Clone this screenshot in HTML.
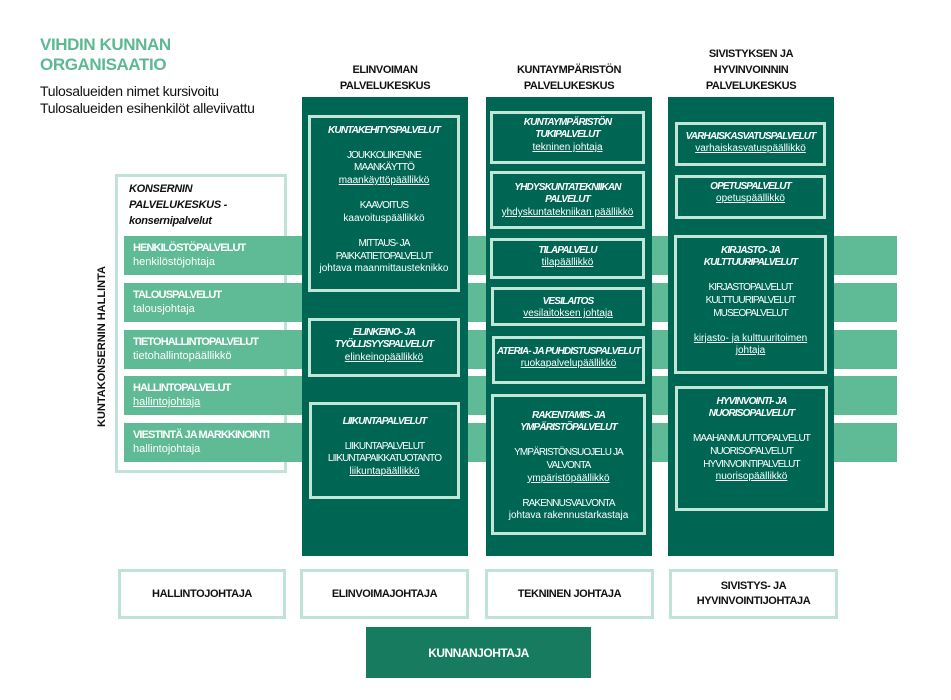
<!DOCTYPE html>
<html>
<head>
<meta charset="utf-8">
<style>
  html,body{margin:0;padding:0;background:#fff;}
  body{width:951px;height:700px;position:relative;overflow:hidden;font-family:"Liberation Sans",Arial,sans-serif;}
  .abs{position:absolute;}
  .title{left:40px;top:35px;font-size:17px;line-height:20px;font-weight:bold;color:#5cb994;letter-spacing:-0.4px;white-space:nowrap;}
  .sub{left:40px;top:83px;font-size:14px;line-height:17px;color:#111;letter-spacing:-0.3px;white-space:nowrap;}
  .colhead{font-size:11px;line-height:16px;font-weight:bold;color:#111;text-align:center;letter-spacing:-0.4px;white-space:nowrap;}
  .panel{left:115px;top:174px;width:172px;height:299px;box-sizing:border-box;border:3px solid #bfe3d6;z-index:1;}
  .ptext{left:129px;top:181px;font-size:11px;line-height:16px;font-weight:bold;font-style:italic;color:#111;letter-spacing:-0.3px;white-space:nowrap;z-index:2;}
  .stripe{left:124px;width:773px;height:39px;background:#5fba96;z-index:2;}
  .stxt{position:absolute;left:9px;top:5px;color:#fff;white-space:nowrap;}
  .stxt b{display:block;font-size:11px;line-height:14px;letter-spacing:-0.9px;}
  .stxt span{display:block;font-size:11px;line-height:14px;}
  .vert{left:22px;top:340px;width:160px;height:14px;font-size:11px;line-height:14px;font-weight:bold;color:#111;text-align:center;transform:rotate(-90deg);white-space:nowrap;}
  .col{top:97px;height:459px;background:#006654;z-index:3;}
  .box{position:absolute;box-sizing:border-box;border:3px solid #c2e6d8;color:#fff;text-align:center;font-size:10px;line-height:12.6px;white-space:nowrap;}
  .box i{font-weight:bold;letter-spacing:-0.85px;}
  .box .u{letter-spacing:-0.9px;}
  .box a,.box .ul{text-decoration:underline;color:#fff;}
  .bbox{position:absolute;top:569px;height:50px;box-sizing:border-box;border:3px solid #bfe3d6;background:#fff;display:flex;align-items:center;justify-content:center;text-align:center;font-size:11px;line-height:15px;font-weight:bold;color:#111;letter-spacing:-0.4px;white-space:nowrap;}
  .kj{left:366px;top:627px;width:225px;height:51px;background:#177c5f;color:#fff;font-weight:bold;font-size:12px;display:flex;align-items:center;justify-content:center;letter-spacing:-0.5px;}
</style>
</head>
<body>

<div class="abs title">VIHDIN KUNNAN<br>ORGANISAATIO</div>
<div class="abs sub">Tulosalueiden nimet kursivoitu<br>Tulosalueiden esihenkilöt alleviivattu</div>

<div class="abs colhead" style="left:302px;width:166px;top:62px;">ELINVOIMAN<br>PALVELUKESKUS</div>
<div class="abs colhead" style="left:486px;width:166px;top:62px;">KUNTAYMPÄRISTÖN<br>PALVELUKESKUS</div>
<div class="abs colhead" style="left:668px;width:166px;top:46px;">SIVISTYKSEN JA<br>HYVINVOINNIN<br>PALVELUKESKUS</div>

<div class="abs panel"></div>
<div class="abs ptext">KONSERNIN<br>PALVELUKESKUS -<br>konsernipalvelut</div>

<div class="abs stripe" style="top:236px;"><div class="stxt"><b>HENKILÖSTÖPALVELUT</b><span>henkilöstöjohtaja</span></div></div>
<div class="abs stripe" style="top:283px;"><div class="stxt"><b>TALOUSPALVELUT</b><span>talousjohtaja</span></div></div>
<div class="abs stripe" style="top:330px;"><div class="stxt"><b>TIETOHALLINTOPALVELUT</b><span>tietohallintopäällikkö</span></div></div>
<div class="abs stripe" style="top:376px;"><div class="stxt"><b>HALLINTOPALVELUT</b><span style="text-decoration:underline;">hallintojohtaja</span></div></div>
<div class="abs stripe" style="top:423px;"><div class="stxt"><b>VIESTINTÄ JA MARKKINOINTI</b><span>hallintojohtaja</span></div></div>

<div class="abs vert">KUNTAKONSERNIN HALLINTA</div>

<!-- Column 1 -->
<div class="abs col" style="left:302px;width:166px;"></div>
<div class="box" style="left:308px;top:115px;width:152px;height:177px;padding-top:6.7px;z-index:4;">
<i>KUNTAKEHITYSPALVELUT</i><br><br>
<span class="u">JOUKKOLIIKENNE</span><br>
<span class="u">MAANKÄYTTÖ</span><br>
<span class="ul">maankäyttöpäällikkö</span><br><br>
<span class="u">KAAVOITUS</span><br>
kaavoituspäällikkö<br><br>
<span class="u">MITTAUS- JA</span><br>
<span class="u">PAIKKATIETOPALVELUT</span><br>
johtava maanmittausteknikko
</div>
<div class="box" style="left:308px;top:318px;width:152px;height:59px;padding-top:5.7px;z-index:4;">
<i>ELINKEINO- JA</i><br>
<i>TYÖLLISYYSPALVELUT</i><br>
<span class="ul">elinkeinopäällikkö</span>
</div>
<div class="box" style="left:309px;top:402px;width:151px;height:97px;padding-top:10.7px;z-index:4;">
<i>LIIKUNTAPALVELUT</i><br><br>
<span class="u">LIIKUNTAPALVELUT</span><br>
<span class="u">LIIKUNTAPAIKKATUOTANTO</span><br>
<span class="ul">liikuntapäällikkö</span>
</div>

<!-- Column 2 -->
<div class="abs col" style="left:486px;width:166px;"></div>
<div class="box" style="left:490px;top:111px;width:155px;height:53px;padding-top:2.7px;z-index:4;">
<i>KUNTAYMPÄRISTÖN</i><br>
<i>TUKIPALVELUT</i><br>
<span class="ul">tekninen johtaja</span>
</div>
<div class="box" style="left:490px;top:171px;width:155px;height:58px;padding-top:7.7px;z-index:4;">
<i>YHDYSKUNTATEKNIIKAN</i><br>
<i>PALVELUT</i><br>
<span class="ul">yhdyskuntatekniikan päällikkö</span>
</div>
<div class="box" style="left:490px;top:238px;width:155px;height:41px;padding-top:3.7px;z-index:4;">
<i>TILAPALVELU</i><br>
<span class="ul">tilapäällikkö</span>
</div>
<div class="box" style="left:491px;top:287px;width:154px;height:39px;padding-top:5.7px;z-index:4;">
<i>VESILAITOS</i><br>
<span class="ul">vesilaitoksen johtaja</span>
</div>
<div class="box" style="left:492px;top:336px;width:153px;height:48px;padding-top:6.7px;z-index:4;">
<i>ATERIA- JA PUHDISTUSPALVELUT</i><br>
<span class="ul">ruokapalvelupäällikkö</span>
</div>
<div class="box" style="left:491px;top:394px;width:155px;height:141px;padding-top:12.7px;z-index:4;">
<i>RAKENTAMIS- JA</i><br>
<i>YMPÄRISTÖPALVELUT</i><br><br>
<span class="u">YMPÄRISTÖNSUOJELU JA</span><br>
<span class="u">VALVONTA</span><br>
<span class="ul">ympäristöpäällikkö</span><br><br>
<span class="u">RAKENNUSVALVONTA</span><br>
johtava rakennustarkastaja
</div>

<!-- Column 3 -->
<div class="abs col" style="left:668px;width:166px;"></div>
<div class="box" style="left:675px;top:122px;width:151px;height:44px;padding-top:5.7px;z-index:4;">
<i>VARHAISKASVATUSPALVELUT</i><br>
<span class="ul">varhaiskasvatuspäällikkö</span>
</div>
<div class="box" style="left:675px;top:175px;width:151px;height:44px;padding-top:2.7px;z-index:4;">
<i>OPETUSPALVELUT</i><br>
<span class="ul">opetuspäällikkö</span>
</div>
<div class="box" style="left:674px;top:235px;width:153px;height:139px;padding-top:6.7px;z-index:4;">
<i>KIRJASTO- JA</i><br>
<i>KULTTUURIPALVELUT</i><br><br>
<span class="u">KIRJASTOPALVELUT</span><br>
<span class="u">KULTTUURIPALVELUT</span><br>
<span class="u">MUSEOPALVELUT</span><br><br>
<span class="ul">kirjasto- ja kulttuuritoimen</span><br>
<span class="ul">johtaja</span>
</div>
<div class="box" style="left:675px;top:386px;width:153px;height:125px;padding-top:6.7px;z-index:4;">
<i>HYVINVOINTI- JA</i><br>
<i>NUORISOPALVELUT</i><br><br>
<span class="u">MAAHANMUUTTOPALVELUT</span><br>
<span class="u">NUORISOPALVELUT</span><br>
<span class="u">HYVINVOINTIPALVELUT</span><br>
<span class="ul">nuorisopäällikkö</span>
</div>

<!-- Bottom boxes -->
<div class="bbox" style="left:118px;width:168px;">HALLINTOJOHTAJA</div>
<div class="bbox" style="left:300px;width:169px;">ELINVOIMAJOHTAJA</div>
<div class="bbox" style="left:485px;width:169px;">TEKNINEN JOHTAJA</div>
<div class="bbox" style="left:669px;width:169px;">SIVISTYS- JA<br>HYVINVOINTIJOHTAJA</div>

<div class="abs kj">KUNNANJOHTAJA</div>

</body>
</html>
